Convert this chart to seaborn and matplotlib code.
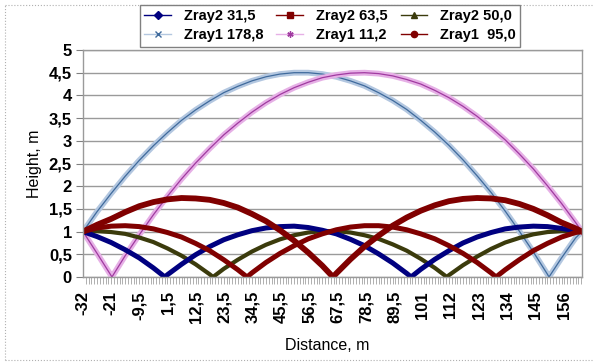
import matplotlib
matplotlib.use("Agg")
import matplotlib.pyplot as plt
import matplotlib.patheffects as pe
from matplotlib.lines import Line2D
from matplotlib.ticker import FixedLocator, FuncFormatter
import numpy as np
import pandas as pd
import seaborn as sns

# sample positions along the distance axis (m)
dist = [-32, -26.5, -21, -15.5, -10, -4.5, 1, 6.5, 12, 17.5, 23, 28.5, 34, 39.5,
        45, 50.5, 56, 61.5, 67, 72.5, 78, 83.5, 89, 94.5, 100, 105.5, 111, 116.5,
        122, 127.5, 133, 138.5, 144, 149.5, 155, 160.5, 163]

# heights (m)
zray2_31_5 = [1.0, 0.89, 0.76, 0.6, 0.42, 0.2, 0.05, 0.28, 0.49, 0.67, 0.82, 0.93, 1.02, 1.08,
              1.11, 1.12, 1.09, 1.03, 0.95, 0.83, 0.69, 0.51, 0.31, 0.08, 0.17, 0.39, 0.58, 0.75,
              0.88, 0.98, 1.06, 1.1, 1.12, 1.11, 1.07, 1.02, 1.0]
zray2_63_5 = [1.0, 1.08, 1.12, 1.13, 1.11, 1.06, 0.98, 0.88, 0.74, 0.58, 0.38, 0.16, 0.09, 0.32,
              0.52, 0.69, 0.84, 0.95, 1.04, 1.1, 1.13, 1.13, 1.1, 1.04, 0.95, 0.84, 0.69, 0.52,
              0.32, 0.09, 0.16, 0.38, 0.58, 0.74, 0.88, 0.98, 1.0]
zray2_50_0 = [1.0, 1.01, 0.99, 0.95, 0.87, 0.77, 0.63, 0.47, 0.28, 0.06, 0.18, 0.38, 0.56, 0.71,
              0.83, 0.92, 0.98, 1.01, 1.01, 0.98, 0.92, 0.84, 0.72, 0.58, 0.4, 0.2, 0.04, 0.26,
              0.45, 0.62, 0.76, 0.86, 0.94, 0.99, 1.01, 1.0, 1.0]
zray1_178_8 = [1.0, 1.44, 1.84, 2.22, 2.57, 2.89, 3.18, 3.45, 3.68, 3.88, 4.06, 4.2, 4.32, 4.41,
               4.47, 4.5, 4.5, 4.47, 4.41, 4.32, 4.21, 4.06, 3.89, 3.69, 3.45, 3.19, 2.9, 2.58,
               2.23, 1.86, 1.45, 1.01, 0.55, 0.06, 0.42, 0.86, 1.0]
zray1_11_2 = [1.0, 0.52, 0.03, 0.47, 0.93, 1.37, 1.78, 2.16, 2.51, 2.83, 3.13, 3.39, 3.63, 3.84,
              4.02, 4.17, 4.29, 4.39, 4.45, 4.49, 4.5, 4.48, 4.43, 4.35, 4.25, 4.11, 3.95, 3.76,
              3.54, 3.29, 3.02, 2.71, 2.38, 2.01, 1.62, 1.2, 1.0]
zray1_95_0 = [1.0, 1.15, 1.28, 1.43, 1.56, 1.65, 1.71, 1.74, 1.73, 1.7, 1.63, 1.53, 1.39, 1.23,
              1.03, 0.8, 0.54, 0.25, 0.08, 0.39, 0.67, 0.91, 1.13, 1.31, 1.46, 1.58, 1.67, 1.72,
              1.74, 1.73, 1.69, 1.61, 1.5, 1.36, 1.2, 1.07, 1.0]

# where each ray touches the ground (height 0)
ground_hits = {
    "Zray2 31,5": [0.0, 96.2],
    "Zray2 63,5": [32.1, 129.4],
    "Zray2 50,0": [18.8, 110.2],
    "Zray1 178,8": [150.1],
    "Zray1 11,2": [-20.7],
    "Zray1  95,0": [65.7],
}
heights = {
    "Zray2 31,5": zray2_31_5,
    "Zray2 63,5": zray2_63_5,
    "Zray2 50,0": zray2_50_0,
    "Zray1 178,8": zray1_178_8,
    "Zray1 11,2": zray1_11_2,
    "Zray1  95,0": zray1_95_0,
}

x_ticklabels = ["-32", "-21", "-9,5", "1,5", "12,5", "23,5", "34,5", "45,5", "56,5",
                "67,5", "78,5", "89,5", "101", "112", "123", "134", "145", "156"]

rows = []
for name, ys in heights.items():
    for x, y in zip(dist, ys):
        rows.append((name, x, y))
    for x in ground_hits[name]:
        rows.append((name, x, 0.0))
df = pd.DataFrame(rows, columns=["ray", "dist", "height"]).sort_values(["ray", "dist"])

# styles
style = {
    "Zray2 31,5": dict(color="#000080", marker="D", lw=3.6),
    "Zray2 63,5": dict(color="#800000", marker="s", lw=3.6),
    "Zray2 50,0": dict(color="#3b3b0c", marker="^", lw=3.0),
    "Zray1 178,8": dict(color="#3f6a9c", marker="x", lw=0.9, halo="#b3c7e0"),
    "Zray1 11,2": dict(color="#a03aa0", marker=(6, 2, 0), lw=0.9, halo="#e6b0e6"),
    "Zray1  95,0": dict(color="#800000", marker="o", lw=4.2),
}
draw_order = ["Zray1 178,8", "Zray1 11,2", "Zray2 50,0", "Zray2 31,5", "Zray1  95,0", "Zray2 63,5"]
legend_order = ["Zray2 31,5", "Zray1 178,8", "Zray2 63,5", "Zray1 11,2", "Zray2 50,0", "Zray1  95,0"]

plt.rcParams['font.family'] = ['Liberation Sans', 'DejaVu Sans']
plt.rcParams['axes.unicode_minus'] = False

fig = plt.figure(figsize=(5.93, 3.64), dpi=100)
ax = fig.add_axes([83 / 593, 87 / 364, 499 / 593, 227 / 364])

for name in draw_order:
    st = style[name]
    sns.lineplot(data=df[df["ray"] == name], x="dist", y="height", estimator=None, sort=True,
                 color=st["color"], linewidth=st["lw"], legend=False, ax=ax)
    line = ax.lines[-1]
    line.set_solid_joinstyle("round")
    if "halo" in st:
        line.set_path_effects([pe.Stroke(linewidth=4.2, foreground=st["halo"]), pe.Normal()])

ax.set_xlim(-32, 163)
ax.set_ylim(0, 5)
ax.set_yticks(np.arange(0, 5.01, 0.5))
ax.yaxis.set_major_formatter(FuncFormatter(lambda v, p: f"{v:g}".replace(".", ",")))
ax.set_xticks(np.linspace(-32, 156, 18))
ax.set_xticklabels(x_ticklabels, rotation=90)
ax.xaxis.set_minor_locator(FixedLocator(np.arange(-32, 163.01, 1.1)))

ax.tick_params(axis="y", length=5, width=0.8, color="#808080", labelsize=12, pad=3)
ax.tick_params(axis="x", which="major", length=0, labelsize=12, pad=10)
ax.tick_params(axis="x", which="minor", length=5, width=0.5, color="#909090")
for lbl in ax.get_xticklabels() + ax.get_yticklabels():
    lbl.set_fontweight("bold")

ax.yaxis.grid(True, color="#9a9a9a", linewidth=1.0)
ax.set_axisbelow(True)
for sp in ax.spines.values():
    sp.set_color("#9a9a9a")
    sp.set_linewidth(1.0)

ax.set_xlabel("Distance, m", fontsize=11.5, va="center")
ax.xaxis.set_label_coords(0.49, -0.30)
ax.set_ylabel("Height, m", fontsize=11.5, va="center")
ax.yaxis.set_label_coords(-0.098, 0.5)

handles = []
for name in legend_order:
    st = style[name]
    handles.append(Line2D([0], [0], color=st.get("halo", st["color"]), lw=1.0,
                          marker=st["marker"], markersize=4.5,
                          markerfacecolor=st["color"], markeredgecolor=st["color"]))
fig.legend(handles, legend_order, ncol=3, loc="upper center",
           bbox_to_anchor=(330 / 593, 1 - 5 / 364), frameon=True, fancybox=False,
           edgecolor="#808080", framealpha=1, borderaxespad=0,
           prop={"weight": "bold", "size": 10.5}, handlelength=1.8, handletextpad=0.9,
           columnspacing=0.9, labelspacing=0.35, borderpad=0.3)

# dotted frame of the embedded chart
for xs, ys in [([5 / 593, 5 / 593], [4 / 364, 359 / 364]),
               ([5 / 593, 1.0], [359 / 364, 359 / 364]),
               ([5 / 593, 1.0], [4 / 364, 4 / 364])]:
    fig.add_artist(Line2D(xs, ys, transform=fig.transFigure, ls=":", color="#b0b0b0", lw=0.8))

fig.savefig("out.png", dpi=100, facecolor="white")
